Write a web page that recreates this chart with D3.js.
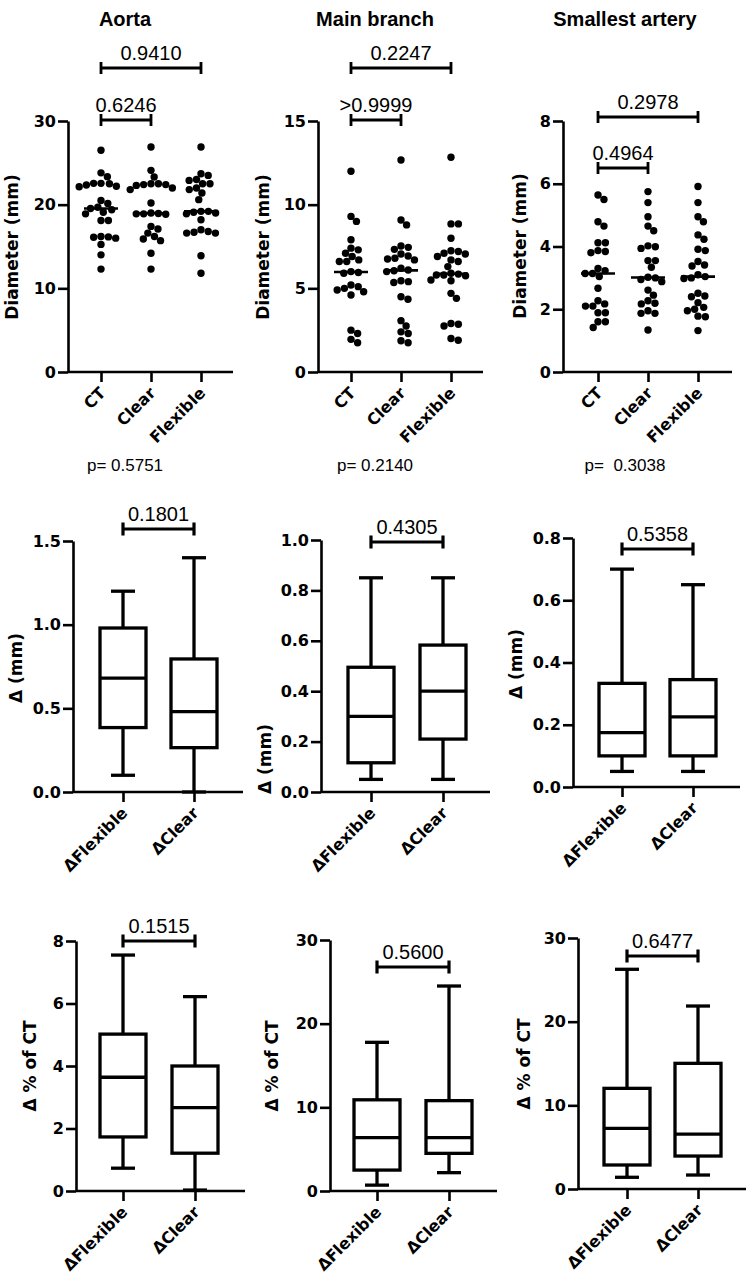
<!DOCTYPE html>
<html><head><meta charset="utf-8">
<script src="https://cdn.jsdelivr.net/npm/d3@7"></script>
<style>body{margin:0;background:#fff}svg{display:block}</style>
</head><body>
<svg id="c" width="749" height="1282"></svg>
<script>
// ---------------- DATA ----------------
const titles = ["Aorta", "Main branch", "Smallest artery"];
const topCategories = ["CT", "Clear", "Flexible"];
const deltaCategories = ["\u0394Flexible", "\u0394Clear"];

const aortaCT = [26.5, 23.8, 23.35, 22.55, 22.55, 22.5, 22.35, 22.2, 22.15, 20.5, 20.15, 19.7, 19.55, 19.4, 19.1, 18.9, 18.1, 18.1, 16.2, 16.15, 16.1, 16.0, 15.25, 14.0, 12.3];
const aortaClear = [26.9, 24.1, 23.3, 22.5, 22.5, 22.4, 22.4, 22.3, 22.0, 21.8, 20.2, 19.0, 18.95, 18.9, 18.9, 18.85, 17.4, 17.1, 16.6, 16.2, 15.9, 15.7, 14.2, 12.3];
const aortaFlexible = [26.9, 23.7, 23.5, 23.0, 22.9, 22.5, 22.5, 22.0, 21.8, 21.4, 20.6, 19.2, 19.2, 19.1, 19.0, 18.9, 18.2, 17.0, 16.8, 16.7, 16.6, 16.6, 13.9, 11.8];
const mainCT = [12.0, 9.3, 9.0, 7.9, 7.4, 7.3, 7.1, 6.9, 6.7, 6.6, 6.6, 6.0, 5.95, 5.9, 5.2, 5.1, 5.0, 4.9, 4.8, 4.6, 2.5, 2.3, 1.95, 1.75];
const mainClear = [12.67, 9.08, 8.79, 7.53, 7.45, 7.33, 7.05, 6.93, 6.8, 6.75, 6.7, 6.2, 6.1, 6.05, 6.0, 5.45, 5.4, 5.35, 4.5, 4.35, 3.07, 2.75, 2.4, 2.3, 1.87, 1.75];
const mainFlexible = [12.83, 8.85, 8.85, 7.99, 7.25, 7.2, 7.1, 7.05, 6.9, 6.7, 6.6, 6.3, 5.9, 5.85, 5.8, 5.8, 5.75, 5.5, 5.45, 4.7, 4.4, 2.9, 2.85, 2.75, 2.0, 1.9];
const smallCT = [5.64, 5.5, 4.79, 4.65, 4.12, 4.12, 3.87, 3.84, 3.80, 3.30, 3.23, 3.14, 3.14, 3.04, 2.67, 2.27, 2.17, 2.1, 2.1, 1.89, 1.89, 1.6, 1.6, 1.42];
const smallClear = [5.75, 5.4, 4.95, 4.65, 4.5, 4.02, 3.99, 3.94, 3.55, 3.55, 3.34, 3.02, 3.0, 2.95, 2.88, 2.61, 2.45, 2.27, 2.19, 2.17, 1.95, 1.87, 1.87, 1.34];
const smallFlexible = [5.91, 5.4, 4.95, 4.79, 4.37, 4.23, 3.91, 3.87, 3.52, 3.41, 3.38, 3.1, 3.04, 3.0, 2.98, 2.51, 2.42, 2.4, 2.21, 2.06, 2.0, 1.95, 1.78, 1.76, 1.32];

// Box plot summaries [min, q1, median, q3, max]
const aortaDeltaMM = [[0.10, 0.385, 0.68, 0.98, 1.20], [0.0, 0.265, 0.48, 0.795, 1.40]];
const mainDeltaMM = [[0.05, 0.116, 0.30, 0.495, 0.85], [0.05, 0.21, 0.40, 0.583, 0.85]];
const smallDeltaMM = [[0.05, 0.10, 0.175, 0.333, 0.70], [0.05, 0.10, 0.225, 0.345, 0.65]];
const aortaDeltaPct = [[0.73, 1.73, 3.64, 5.02, 7.55], [0.03, 1.21, 2.67, 4.0, 6.22]];
const mainDeltaPct = [[0.7, 2.5, 6.37, 10.9, 17.77], [2.19, 4.5, 6.37, 10.8, 24.5]];
const smallDeltaPct = [[1.4, 2.87, 7.25, 12.03, 26.26], [1.67, 3.94, 6.57, 15.02, 21.87]];

// Tick values
const ticksAorta = [0, 10, 20, 30];
const ticksMain = [0, 5, 10, 15];
const ticksSmall = [0, 2, 4, 6, 8];
const ticksDAorta = [0, 0.5, 1.0, 1.5];
const ticksDMain = [0, 0.2, 0.4, 0.6, 0.8, 1.0];
const ticksDSmall = [0, 0.2, 0.4, 0.6, 0.8];
const ticksPAorta = [0, 2, 4, 6, 8];
const ticksPMain = [0, 10, 20, 30];
const ticksPSmall = [0, 10, 20, 30];

// Comparison p-values
const topBrackets = [
  [{a: 0, b: 2, label: "0.9410"}, {a: 0, b: 1, label: "0.6246"}],
  [{a: 0, b: 2, label: "0.2247"}, {a: 0, b: 1, label: ">0.9999"}],
  [{a: 0, b: 2, label: "0.2978"}, {a: 0, b: 1, label: "0.4964"}]
];
const overallP = ["p= 0.5751", "p= 0.2140", "p=  0.3038"];
const midBrackets = ["0.1801", "0.4305", "0.5358"];
const botBrackets = ["0.1515", "0.5600", "0.6477"];

// ---------------- LAYOUT ----------------
const svg = d3.select("#c");
const FB = "'DejaVu Sans', sans-serif";
const FA = "'Liberation Sans', Arial, sans-serif";

const topPanels = [
  {ax: 68, x0: 101, x1: 201, xr: 233, yb: 372, yt: 121, max: 30, ticks: ticksAorta, data: [aortaCT, aortaClear, aortaFlexible], bY: [68, 120], labX: 12, labY: 247, cx: 125},
  {ax: 318, x0: 351, x1: 451, xr: 483, yb: 372, yt: 121, max: 15, ticks: ticksMain, data: [mainCT, mainClear, mainFlexible], bY: [68, 120], labX: 263, labY: 247, cx: 375},
  {ax: 563, x0: 598, x1: 698, xr: 732, yb: 372, yt: 121, max: 8, ticks: ticksSmall, data: [smallCT, smallClear, smallFlexible], bY: [117, 168], labX: 520, labY: 246, cx: 625}
];
const midPanels = [
  {ax: 73, x0: 123, x1: 194, xr: 243, yb: 792, yt: 541, max: 1.5, ticks: ticksDAorta, fmt: d3.format(".1f"), data: aortaDeltaMM, bY: 529, labX: 16, labY: 668, label: "\u0394 (mm)"},
  {ax: 321, x0: 371, x1: 443, xr: 490, yb: 792, yt: 540, max: 1.0, ticks: ticksDMain, fmt: d3.format(".1f"), data: mainDeltaMM, bY: 542, labX: 265, labY: 759, label: "\u0394 (mm)"},
  {ax: 573, x0: 622, x1: 693, xr: 740, yb: 787, yt: 538, max: 0.8, ticks: ticksDSmall, fmt: d3.format(".1f"), data: smallDeltaMM, bY: 549, labX: 516, labY: 664, label: "\u0394 (mm)"}
];
const botPanels = [
  {ax: 76, x0: 123, x1: 195, xr: 245, yb: 1191, yt: 941, max: 8, ticks: ticksPAorta, fmt: d3.format("d"), data: aortaDeltaPct, bY: 941, labX: 30, labY: 1066, label: "\u0394 % of CT"},
  {ax: 330, x0: 377, x1: 449, xr: 497, yb: 1191, yt: 940, max: 30, ticks: ticksPMain, fmt: d3.format("d"), data: mainDeltaPct, bY: 967, labX: 272, labY: 1066, label: "\u0394 % of CT"},
  {ax: 578, x0: 627, x1: 698, xr: 746, yb: 1189, yt: 938, max: 30, ticks: ticksPSmall, fmt: d3.format("d"), data: smallDeltaPct, bY: 956, labX: 524, labY: 1064, label: "\u0394 % of CT"}
];

function drawAxes(g, p, y, x, cats, labelSize) {
  const ya = g.append("g").attr("transform", `translate(${p.ax},0)`)
    .call(d3.axisLeft(y).tickValues(p.ticks).tickFormat(p.fmt || d3.format("d")).tickSize(10).tickSizeOuter(0).tickPadding(2));
  ya.select(".domain").attr("stroke", "#000").attr("stroke-width", 2.6);
  ya.selectAll(".tick line").attr("stroke", "#000").attr("stroke-width", 2.6);
  ya.selectAll(".tick text").attr("font-family", FB).attr("font-weight", "bold").attr("font-size", 16).attr("fill", "#000");
  const xa = g.append("g").attr("transform", `translate(0,${p.yb})`)
    .call(d3.axisBottom(x).tickSize(10).tickSizeOuter(0));
  xa.select(".domain").remove();
  xa.append("line").attr("x1", p.ax).attr("x2", p.xr).attr("stroke", "#000").attr("stroke-width", 2.6);
  xa.selectAll(".tick line").attr("stroke", "#000").attr("stroke-width", 2.6);
  xa.selectAll(".tick text").attr("font-family", FB).attr("font-weight", "bold").attr("font-size", labelSize).attr("fill", "#000")
    .attr("text-anchor", "end").attr("dy", null).attr("y", 0)
    .attr("transform", "translate(5,22) rotate(-45)");
}

function bracket(g, xa, xb, yy, label, w, cap) {
  g.append("path").attr("d", `M${xa},${yy - cap}V${yy + cap}M${xa},${yy}H${xb}M${xb},${yy - cap}V${yy + cap}`)
    .attr("fill", "none").attr("stroke", "#000").attr("stroke-width", w);
  g.append("text").attr("x", (xa + xb) / 2).attr("y", yy - 8).attr("text-anchor", "middle")
    .attr("font-family", FA).attr("font-size", 20).attr("fill", "#000").text(label);
}

function beeswarm(values, y, r) {
  const pts = values.map(v => ({v, py: y(v), x: 0})).sort((a, b) => b.v - a.v);
  const placed = [];
  const d2 = (2 * r) * (2 * r);
  pts.forEach(p => {
    const cands = [0];
    placed.forEach(q => {
      const dy = p.py - q.py;
      if (Math.abs(dy) < 2 * r) {
        const dx = Math.sqrt(d2 - dy * dy);
        cands.push(q.x + dx, q.x - dx);
      }
    });
    cands.sort((a, b) => Math.abs(a) - Math.abs(b));
    for (const c of cands) {
      if (placed.every(q => (c - q.x) ** 2 + (p.py - q.py) ** 2 >= d2 - 0.01)) { p.x = c; break; }
    }
    placed.push(p);
  });
  return pts;
}

// ---------------- TOP ROW ----------------
topPanels.forEach((p, i) => {
  const g = svg.append("g");
  const y = d3.scaleLinear().domain([0, p.max]).range([p.yb, p.yt]);
  const x = d3.scalePoint().domain(topCategories).range([p.x0, p.x1]);
  g.append("text").attr("x", p.cx).attr("y", 26).attr("text-anchor", "middle")
    .attr("font-family", FA).attr("font-weight", "bold").attr("font-size", 20).text(titles[i]);
  drawAxes(g, p, y, x, topCategories, 16);
  g.append("text").attr("transform", `translate(${p.labX + 6},${p.labY}) rotate(-90)`).attr("text-anchor", "middle")
    .attr("font-family", FB).attr("font-weight", "bold").attr("font-size", 17).text("Diameter (mm)");
  p.data.forEach((vals, k) => {
    const cx = x(topCategories[k]);
    const pts = beeswarm(vals, y, 3.7);
    g.append("g").selectAll("circle").data(pts).join("circle")
      .attr("cx", d => cx + d.x).attr("cy", d => d.py).attr("r", 3.7).attr("fill", "#000");
    const m = d3.median(vals);
    g.append("line").attr("x1", cx - 17).attr("x2", cx + 17).attr("y1", y(m)).attr("y2", y(m))
      .attr("stroke", "#000").attr("stroke-width", 2.6);
  });
  topBrackets[i].forEach((b, k) => {
    bracket(g, x(topCategories[b.a]), x(topCategories[b.b]), p.bY[k], b.label, 2.8, 6);
  });
  g.append("text").attr("x", p.cx).attr("y", 471).attr("text-anchor", "middle")
    .attr("font-family", FA).attr("font-size", 17).style("white-space", "pre").text(overallP[i]);
});

// ---------------- BOX ROWS ----------------
function boxRow(panels, brLabels) {
  panels.forEach((p, i) => {
    const g = svg.append("g");
    const y = d3.scaleLinear().domain([0, p.max]).range([p.yb, p.yt]);
    const x = d3.scalePoint().domain(deltaCategories).range([p.x0, p.x1]);
    drawAxes(g, p, y, x, deltaCategories, 16);
    g.append("text").attr("transform", `translate(${p.labX + 6},${p.labY}) rotate(-90)`).attr("text-anchor", "middle")
      .attr("font-family", FB).attr("font-weight", "bold").attr("font-size", 17).text(p.label);
    p.data.forEach((s, k) => {
      const cx = x(deltaCategories[k]);
      const [mn, q1, md, q3, mx] = s;
      const bw = 23, cw = 12;
      const gg = g.append("g").attr("fill", "none").attr("stroke", "#000").attr("stroke-width", 3.3);
      gg.append("line").attr("x1", cx).attr("x2", cx).attr("y1", y(mx)).attr("y2", y(q3));
      gg.append("line").attr("x1", cx).attr("x2", cx).attr("y1", y(q1)).attr("y2", y(mn));
      gg.append("line").attr("x1", cx - cw).attr("x2", cx + cw).attr("y1", y(mx)).attr("y2", y(mx));
      gg.append("line").attr("x1", cx - cw).attr("x2", cx + cw).attr("y1", y(mn)).attr("y2", y(mn));
      gg.append("rect").attr("x", cx - bw).attr("width", 2 * bw).attr("y", y(q3)).attr("height", y(q1) - y(q3)).attr("fill", "#fff");
      gg.append("line").attr("x1", cx - bw).attr("x2", cx + bw).attr("y1", y(md)).attr("y2", y(md));
    });
    bracket(g, x(deltaCategories[0]), x(deltaCategories[1]), p.bY, brLabels[i], 3.2, 6.5);
  });
}
boxRow(midPanels, midBrackets);
boxRow(botPanels, botBrackets);
</script>
</body></html>
